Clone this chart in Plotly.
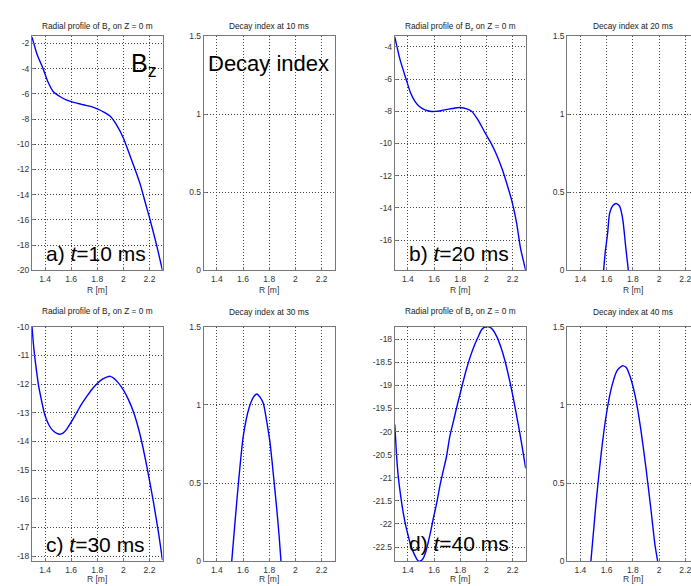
import plotly.graph_objects as go

W, H = 691, 586

# ---------------- data ----------------
r_bz_10 = [1.30, 1.34, 1.387, 1.42, 1.464, 1.52, 1.567, 1.62, 1.695, 1.75, 1.80, 1.85, 1.90, 1.95,
           2.00, 2.04, 2.09, 2.13, 2.17, 2.20, 2.25, 2.30]
bz_10 = [-1.5, -2.9, -4.06, -5.0, -5.83, -6.25, -6.5, -6.68, -6.87, -7.0, -7.2, -7.45, -7.78, -8.5,
         -9.5, -10.6, -12.0, -13.2, -14.7, -15.8, -17.8, -20.0]

r_bz_20 = [1.30, 1.34, 1.389, 1.42, 1.455, 1.49, 1.531, 1.57, 1.608, 1.66, 1.71, 1.76, 1.80, 1.85,
           1.889, 1.94, 1.99, 2.03, 2.07, 2.12, 2.16, 2.196, 2.23, 2.26, 2.30]
bz_20 = [-3.4, -4.8, -6.08, -6.85, -7.4, -7.72, -7.91, -8.0, -8.01, -7.95, -7.87, -7.8, -7.77, -7.85,
         -8.01, -8.6, -9.34, -9.9, -10.56, -11.58, -12.6, -13.62, -14.9, -16.47, -17.87]

r_bz_30 = [1.30, 1.315, 1.334, 1.352, 1.372, 1.39, 1.41, 1.435, 1.462, 1.49, 1.513, 1.54, 1.565, 1.60,
           1.642, 1.68, 1.72, 1.76, 1.80, 1.84, 1.877, 1.90, 1.928, 1.96, 2.0, 2.04, 2.08, 2.13,
           2.18, 2.23, 2.27, 2.30]
bz_30 = [-10.0, -10.8, -11.52, -12.1, -12.55, -12.93, -13.23, -13.47, -13.63, -13.72, -13.75, -13.7,
         -13.58, -13.33, -13.0, -12.7, -12.43, -12.18, -11.98, -11.83, -11.75, -11.73, -11.8, -11.95,
         -12.2, -12.55, -13.0, -13.8, -14.87, -16.1, -17.2, -18.14]

r_bz_40 = [1.30, 1.313, 1.326, 1.345, 1.364, 1.383, 1.402, 1.42, 1.44, 1.46, 1.478, 1.497, 1.516,
           1.535, 1.555, 1.575, 1.593, 1.62, 1.644, 1.67, 1.695, 1.72, 1.75, 1.783, 1.815, 1.847,
           1.88, 1.91, 1.94, 1.962, 1.98, 2.0, 2.025, 2.05, 2.08, 2.11, 2.14, 2.176, 2.20, 2.227,
           2.253, 2.28, 2.30]
bz_40 = [-19.85, -20.5, -20.96, -21.4, -21.75, -22.03, -22.25, -22.45, -22.6, -22.72, -22.8, -22.8,
         -22.75, -22.62, -22.4, -22.15, -21.9, -21.55, -21.18, -20.85, -20.54, -20.11, -19.75,
         -19.36, -19.0, -18.65, -18.35, -18.12, -17.93, -17.8, -17.75, -17.73, -17.74, -17.8,
         -17.95, -18.17, -18.45, -18.88, -19.2, -19.6, -20.0, -20.45, -20.8]

r_di_10 = []
di_10 = []

r_di_20 = [1.577, 1.59, 1.608, 1.623, 1.65, 1.674, 1.70, 1.724, 1.745, 1.766]
di_20 = [0.0, 0.12, 0.24, 0.366, 0.418, 0.429, 0.41, 0.324, 0.157, 0.0]

r_di_30 = [1.514, 1.54, 1.564, 1.602, 1.646, 1.68, 1.705, 1.73, 1.755, 1.78, 1.806, 1.83, 1.857,
           1.875, 1.89]
di_30 = [0.0, 0.26, 0.49, 0.80, 0.98, 1.05, 1.07, 1.05, 1.01, 0.9, 0.76, 0.57, 0.34, 0.17, 0.0]

r_di_40 = [1.48, 1.52, 1.56, 1.60, 1.64, 1.68, 1.72, 1.75, 1.78, 1.82, 1.86, 1.90, 1.94, 1.97, 1.99]
di_40 = [0.0, 0.38, 0.7, 0.95, 1.12, 1.22, 1.25, 1.24, 1.18, 1.05, 0.85, 0.6, 0.32, 0.1, 0.0]

x_ticks = [1.4, 1.6, 1.8, 2.0, 2.2]
x_ticklabels = ["1.4", "1.6", "1.8", "2", "2.2"]
bz10_ticks = [-20, -18, -16, -14, -12, -10, -8, -6, -4, -2]
bz20_ticks = [-16, -14, -12, -10, -8, -6, -4]
bz30_ticks = [-18, -17, -16, -15, -14, -13, -12, -11, -10]
bz40_ticks = [-22.5, -22, -21.5, -21, -20.5, -20, -19.5, -19, -18.5, -18]
di_ticks = [0, 0.5, 1, 1.5]
di_ticklabels = ["0", "0.5", "1", "1.5"]

bz_ranges = {1: [-20.0, -1.45], 3: [-17.87, -3.36], 5: [-18.18, -10.0], 7: [-22.81, -17.73]}
times = [10, 20, 30, 40]
labels = ["a)", "b)", "c)", "d)"]

# ---------------- layout geometry (pixels) ----------------
def px(x):
    return x / W

def py(y):
    return 1 - y / H

col_px = [(32, 162.5), (203.7, 334.7), (394.8, 525.7), (567.3, 691)]
row_px = [(32, 270), (327.3, 566)]

FONT = "Liberation Sans, Arial, sans-serif"
fig = go.Figure()

panels = [
    (r_bz_10, bz_10), (r_di_10, di_10), (r_bz_20, bz_20), (r_di_20, di_20),
    (r_bz_30, bz_30), (r_di_30, di_30), (r_bz_40, bz_40), (r_di_40, di_40),
]
ytick_sets = {1: bz10_ticks, 3: bz20_ticks, 5: bz30_ticks, 7: bz40_ticks}

for i, (rx, ry) in enumerate(panels, start=1):
    sfx = "" if i == 1 else str(i)
    fig.add_trace(go.Scatter(x=rx, y=ry, mode="lines",
                             line=dict(color="#0000ff", width=1.4, shape="spline", smoothing=0.6),
                             xaxis="x" + sfx, yaxis="y" + sfx, showlegend=False, hoverinfo="skip"))
    row = (i - 1) // 4
    col = (i - 1) % 4
    x0, x1 = col_px[col]
    y0, y1 = row_px[row]
    right_cut = col == 3
    xr = [1.3, 1.3 + (x1 - x0) / 131.0] if right_cut else [1.3, 2.3]
    is_bz = col in (0, 2)
    if is_bz:
        yr = bz_ranges[i]
        yt = ytick_sets[i]
        ytt = [("%g" % v) for v in yt]
    else:
        yr = [0, 1.5]
        yt = di_ticks
        ytt = di_ticklabels
    common = dict(showgrid=True, gridcolor="#444444", griddash="1px,2px", gridwidth=1,
                  showline=True, linecolor="#777777", linewidth=1, zeroline=False,
                  ticks="inside", ticklen=3, tickcolor="#777777",
                  tickfont=dict(family=FONT, size=8.5, color="#333333"), fixedrange=True)
    fig.layout["xaxis" + sfx] = dict(common, domain=[px(x0), px(x1)], range=xr, anchor="y" + sfx,
                                     tickvals=x_ticks, ticktext=x_ticklabels, mirror=True,
                                     ticklabeloverflow="allow")
    fig.layout["yaxis" + sfx] = dict(common, domain=[py(y1), py(y0)], range=yr, anchor="x" + sfx,
                                     tickvals=yt, ticktext=ytt, mirror=(False if right_cut else True))

annotations = []
# titles and axis labels
for i in range(1, 9):
    row = (i - 1) // 4
    col = (i - 1) % 4
    x0, x1 = col_px[col]
    xc = (x0 + (x0 + 131.0 if col == 3 else x1)) / 2
    ty = 21.5 if row == 0 else 312
    t = times[(col // 2) + 2 * row]
    if col in (0, 2):
        txt = "Radial profile of B<sub>z</sub> on Z = 0 m"
    else:
        txt = "Decay index at %d ms" % t
    annotations.append(dict(text=txt, x=px(xc), y=py(ty), xref="paper", yref="paper",
                            xanchor="center", yanchor="middle", showarrow=False,
                            font=dict(family=FONT, size=8.3, color="#222222")))
    ly = 290 if row == 0 else 584
    annotations.append(dict(text="R [m]", x=px(xc), y=py(ly), xref="paper", yref="paper",
                            xanchor="center", yanchor="middle", showarrow=False,
                            font=dict(family=FONT, size=8.5, color="#333333")))

# big labels
annotations.append(dict(text="B<sub>z</sub>", x=px(129), y=py(61), xref="paper", yref="paper",
                        xanchor="left", yanchor="middle", showarrow=False,
                        font=dict(family=FONT, size=25, color="#000000")))
annotations.append(dict(text="Decay index", x=px(268.5), y=py(60), xref="paper", yref="paper",
                        xanchor="center", yanchor="middle", showarrow=False,
                        font=dict(family=FONT, size=22, color="#000000")))
big_pos = [(96, 253), (458.5, 253), (95.5, 549), (459.5, 548)]
for k, (bx, by) in enumerate(big_pos):
    annotations.append(dict(text="%s <i>t</i>=%d ms" % (labels[k], times[k]), x=px(bx), y=py(by),
                            xref="paper", yref="paper", xanchor="center", yanchor="middle",
                            showarrow=False, font=dict(family=FONT, size=21, color="#000000")))

fig.update_layout(width=W, height=H, margin=dict(l=0, r=0, t=0, b=0),
                  paper_bgcolor="white", plot_bgcolor="white", annotations=annotations,
                  showlegend=False)

fig.write_html("out.html", config={"displayModeBar": False})
